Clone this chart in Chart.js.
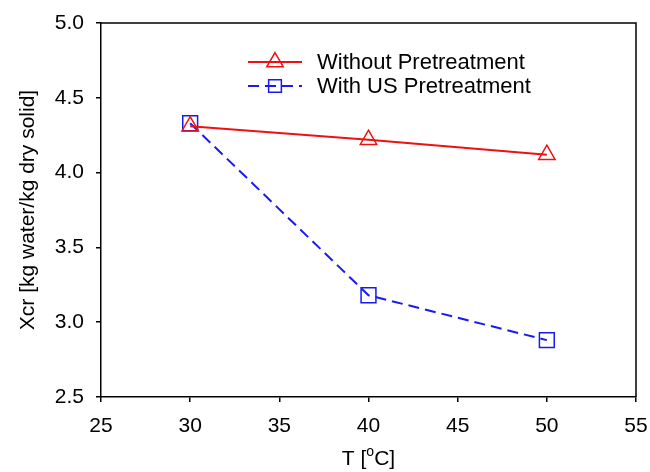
<!DOCTYPE html>
<html>
<head>
<meta charset="utf-8">
<script src="https://cdn.jsdelivr.net/npm/chart.js@4"></script>
<style>
  html, body { margin: 0; padding: 0; background: #fff; }
  #wrap { width: 650px; height: 472px; position: relative; }
</style>
</head>
<body>
<div id="wrap"><canvas id="chart"></canvas></div>
<script>
// данные
const temps = [30, 40, 50];
const withoutPre = [4.31, 4.22, 4.12];
const withUS = [4.33, 3.18, 2.88];
const seriesLabels = ['Without Pretreatment', 'With US Pretreatment'];
const xTicks = [25, 30, 35, 40, 45, 50, 55];
const yTicks = [2.5, 3.0, 3.5, 4.0, 4.5, 5.0];

const RED = '#ee1111';
const BLUE = '#1a1aee';
const FONT = 'Liberation Sans, Arial, sans-serif';
const FS = 21;

// рамка сверху/справа + легенда + подпись оси X с индексом
const framePlugin = {
    id: 'frame',
    afterDraw(chart) {
        const { ctx, chartArea: a } = chart;
        ctx.save();
        ctx.strokeStyle = '#000';
        ctx.lineWidth = 1.5;
        ctx.beginPath();
        ctx.moveTo(a.left, a.top);
        ctx.lineTo(a.right, a.top);
        ctx.lineTo(a.right, a.bottom);
        ctx.stroke();

        // легенда
        const items = [
            { color: RED, dash: [], style: 'triangle', r: 9.5, y: 62 },
            { color: BLUE, dash: [11, 6], style: 'rect', r: 9, y: 86 }
        ];
        items.forEach((it, i) => {
            ctx.strokeStyle = it.color;
            ctx.lineWidth = 2;
            ctx.setLineDash(it.dash);
            ctx.beginPath();
            ctx.moveTo(248, it.y);
            ctx.lineTo(302, it.y);
            ctx.stroke();
            ctx.setLineDash([]);
            ctx.lineWidth = 1.5;
            ctx.fillStyle = 'rgba(0,0,0,0)';
            Chart.helpers.drawPoint(ctx, {
                pointStyle: it.style, radius: it.r, rotation: 0, borderWidth: 1.5
            }, 275, it.y);
            ctx.fillStyle = '#000';
            ctx.font = '22px ' + FONT;
            ctx.textBaseline = 'middle';
            ctx.textAlign = 'left';
            ctx.fillText(seriesLabels[i], 317, it.y + 1);
        });

        // подпись оси X: T [°C] с верхним индексом
        ctx.fillStyle = '#000';
        ctx.textBaseline = 'alphabetic';
        ctx.textAlign = 'left';
        const p1 = 'T [', p2 = 'C]';
        ctx.font = '14px ' + FONT;
        const wo = ctx.measureText('o').width;
        ctx.font = FS + 'px ' + FONT;
        const w1 = ctx.measureText(p1).width, w2 = ctx.measureText(p2).width;
        const cx = (a.left + a.right) / 2;
        let x = cx - (w1 + wo + w2) / 2;
        const yb = 465;
        ctx.fillText(p1, x, yb);
        x += w1;
        ctx.font = '14px ' + FONT;
        ctx.fillText('o', x, yb - 9);
        x += wo;
        ctx.font = FS + 'px ' + FONT;
        ctx.fillText(p2, x, yb);
        ctx.restore();
    }
};

new Chart(document.getElementById('chart'), {
    type: 'line',
    data: {
        datasets: [
            {
                label: seriesLabels[0],
                data: temps.map((t, i) => ({ x: t, y: withoutPre[i] })),
                borderColor: RED,
                borderWidth: 2,
                pointStyle: 'triangle',
                pointRadius: 9.5,
                pointBorderWidth: 1.5,
                pointBorderColor: RED,
                pointBackgroundColor: 'rgba(0,0,0,0)'
            },
            {
                label: seriesLabels[1],
                data: temps.map((t, i) => ({ x: t, y: withUS[i] })),
                borderColor: BLUE,
                borderWidth: 2,
                borderDash: [11, 6],
                pointStyle: 'rect',
                pointRadius: 10.5,
                pointBorderWidth: 1.5,
                pointBorderColor: BLUE,
                pointBackgroundColor: 'rgba(0,0,0,0)'
            }
        ]
    },
    options: {
        responsive: true,
        maintainAspectRatio: false,
        animation: false,
        layout: { padding: { top: 23, right: 14, left: 0, bottom: 0 } },
        plugins: {
            legend: { display: false },
            tooltip: { enabled: false }
        },
        scales: {
            x: {
                type: 'linear',
                min: 25, max: 55,
                afterBuildTicks: s => { s.ticks = xTicks.map(v => ({ value: v })); },
                afterFit: s => { s.height = 75; s.paddingLeft = 0; s.paddingRight = 0; },
                grid: { drawOnChartArea: false, drawTicks: true, tickLength: 5, color: '#000', lineWidth: 1.5 },
                border: { color: '#000', width: 1.5 },
                ticks: { color: '#000', font: { family: FONT, size: FS }, padding: 12, maxRotation: 0 }
            },
            y: {
                type: 'linear',
                min: 2.5, max: 5.0,
                afterBuildTicks: s => { s.ticks = yTicks.map(v => ({ value: v })); },
                afterFit: s => { s.width = 101; s.paddingTop = 0; s.paddingBottom = 0; },
                grid: { drawOnChartArea: false, drawTicks: true, tickLength: 5, color: '#000', lineWidth: 1.5 },
                border: { color: '#000', width: 1.5 },
                ticks: {
                    color: '#000', font: { family: FONT, size: FS }, padding: 12,
                    callback: v => v.toFixed(1)
                },
                title: {
                    display: true,
                    text: 'Xcr [kg water/kg dry solid]',
                    color: '#000',
                    font: { family: FONT, size: FS },
                    padding: { top: 16, bottom: 0 }
                }
            }
        }
    },
    plugins: [framePlugin]
});
</script>
</body>
</html>
